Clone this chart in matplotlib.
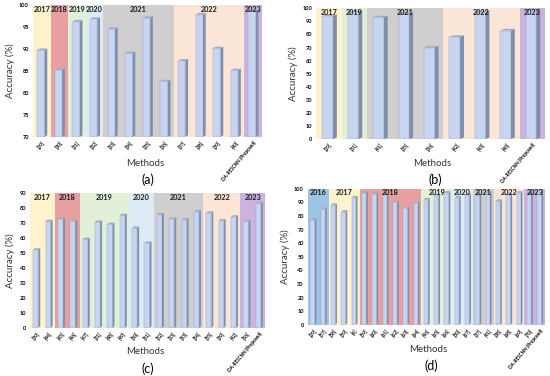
import matplotlib
matplotlib.use('Agg')
import matplotlib.pyplot as plt
from matplotlib.patches import Polygon

plt.rcParams['font.family'] = ['Lato', 'DejaVu Sans']

PROP = 'DA-RESCNN (Proposed)'

# panel (a)
labels_a = ['[29]', '[30]', '[31]', '[32]', '[33]', '[34]', '[35]', '[36]',
            '[37]', '[38]', '[39]', '[40]', PROP]
values_a = [89.7, 85.2, 96.2, 96.8, 94.5, 89.0, 97.0, 82.6, 87.3, 97.8, 90.1, 85.1, 98.5]
years_a = ['2017', '2018', '2019', '2020', '2021', '2022', '2023']
counts_a = [1, 1, 1, 1, 4, 4, 1]

# panel (b)
labels_b = ['[29]', '[31]', '[41]', '[35]', '[36]', '[42]', '[43]', '[40]', PROP]
values_b = [94.0, 97.0, 93.0, 96.0, 70.0, 78.0, 97.0, 83.0, 98.5]
years_b = ['2017', '2019', '2021', '2022', '2023']
counts_b = [1, 1, 3, 3, 1]

# panel (c)
labels_c = ['[39]', '[44]', '[45]', '[46]', '[47]', '[31]', '[48]', '[49]', '[50]',
            '[51]', '[52]', '[33]', '[53]', '[54]', '[55]', '[39]', '[42]', '[56]', PROP]
values_c = [52.0, 71.0, 72.5, 71.0, 59.0, 70.5, 69.0, 75.0, 66.5, 56.5,
            75.5, 72.5, 72.0, 77.5, 76.5, 71.5, 74.0, 71.0, 83.0]
years_c = ['2017', '2018', '2019', '2020', '2021', '2022', '2023']
counts_c = [2, 2, 4, 2, 4, 3, 2]

# panel (d)
labels_d = ['[29]', '[57]', '[58]', '[59]', '[6]', '[59]', '[60]', '[61]', '[62]',
            '[63]', '[64]', '[46]', '[65]', '[66]', '[50]', '[67]', '[37]', '[41]',
            '[38]', '[68]', '[69]', '[70]', PROP]
values_d = [77.0, 85.0, 88.0, 83.0, 93.5, 97.0, 96.0, 95.5, 90.0, 85.5, 89.5, 92.0,
            95.0, 97.0, 93.5, 95.5, 95.0, 97.0, 91.0, 95.5, 97.0, 96.5, 99.0]
years_d = ['2016', '2017', '2018', '2019', '2020', '2021', '2022', '2023']
counts_d = [2, 3, 6, 3, 2, 2, 3, 2]

year_colors = {
    '2016': '#9dc3e6',
    '2017': '#fff2cc',
    '2018': '#e6a0a0',
    '2019': '#e2f0d9',
    '2020': '#deebf7',
    '2021': '#d0cece',
    '2022': '#fbe5d6',
    '2023': '#cbb2df',
}


def draw_panel(ax, labels, values, years, counts, ylim, yticks):
    n = len(values)
    lo, hi = ylim
    # year bands
    start = 0
    for yr, c in zip(years, counts):
        ax.axvspan(start - 0.5, start + c - 0.5, color=year_colors[yr], lw=0, zorder=0)
        ax.text(start + c / 2 - 0.5, hi - (hi - lo) * 0.005, yr, ha='center', va='top',
                fontsize=5.2, fontweight='bold', color='#1a1a1a', zorder=5)
        start += c

    w = 0.42
    dx = 0.15
    dy = (hi - lo) * 0.013
    for i, v in enumerate(values):
        x0 = i - w / 2 - dx / 3
        ax.bar(x0 + w / 2, v - lo, width=w, bottom=lo, color='#c8d5f1',
               edgecolor='#9aa9c8', lw=0.35, zorder=2)
        side = Polygon([(x0 + w, lo), (x0 + w + dx, lo + dy), (x0 + w + dx, v + dy), (x0 + w, v)],
                       closed=True, fc='#7f8fab', ec='none', zorder=2)
        top = Polygon([(x0, v), (x0 + dx, v + dy), (x0 + w + dx, v + dy), (x0 + w, v)],
                      closed=True, fc='#9fadc8', ec='none', zorder=2)
        ax.add_patch(side)
        ax.add_patch(top)

    ax.set_xlim(-0.5, n - 0.5)
    ax.set_ylim(lo, hi)
    ax.set_yticks(yticks)
    ax.tick_params(axis='y', labelsize=4, length=0, pad=3)
    for t in ax.get_yticklabels():
        t.set_fontweight('bold')
    ax.set_xticks(range(n))
    ax.set_xticklabels(labels, rotation=50, ha='right', rotation_mode='anchor',
                       fontsize=3.3, fontweight='bold')
    ax.tick_params(axis='x', length=0, pad=2)
    for s in ax.spines.values():
        s.set_visible(False)
    ax.set_ylabel('Accuracy (%)', fontsize=7, color='#333333', labelpad=3)


fig = plt.figure(figsize=(5.5, 3.76), dpi=100)

ax_a = fig.add_axes([0.060, 0.636, 0.416, 0.351])
draw_panel(ax_a, labels_a, values_a, years_a, counts_a, (70, 100), range(70, 101, 5))
ax_b = fig.add_axes([0.575, 0.630, 0.416, 0.348])
draw_panel(ax_b, labels_b, values_b, years_b, counts_b, (0, 100), range(0, 101, 10))
ax_c = fig.add_axes([0.055, 0.128, 0.427, 0.359])
draw_panel(ax_c, labels_c, values_c, years_c, counts_c, (0, 90), range(0, 91, 10))
ax_d = fig.add_axes([0.560, 0.136, 0.431, 0.362])
draw_panel(ax_d, labels_d, values_d, years_d, counts_d, (0, 100), range(0, 101, 10))

# x labels and panel letters
for x, y, letter in [(145, 163, '(a)'), (432, 163, '(b)'), (145, 352, '(c)'), (428, 349, '(d)')]:
    fig.text(x / 550, 1 - y / 376, 'Methods', ha='center', va='center', fontsize=7, color='#333333')
    fig.text((x + 3) / 550, 1 - (y + 17) / 376, letter, ha='center', va='center', fontsize=9)

fig.savefig('out.png', dpi=100)
